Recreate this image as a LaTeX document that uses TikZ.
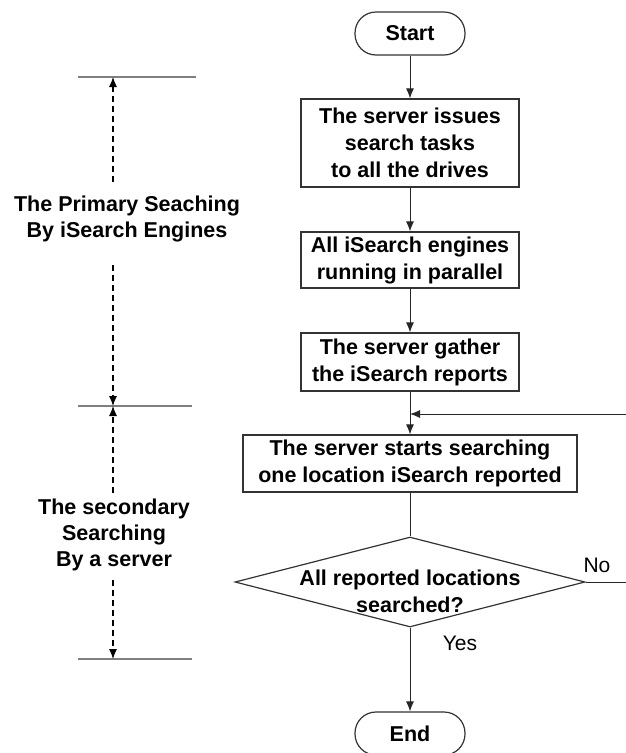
\documentclass[tikz,border=0pt]{standalone}
\usepackage{fontspec}
\setmainfont{Liberation Sans}
\usetikzlibrary{shapes.geometric,arrows.meta}
\begin{document}
\begin{tikzpicture}[x=1pt,y=-1pt,
  every node/.style={font=\fontsize{21.5}{27}\selectfont\bfseries, align=center, inner sep=0pt},
  boxnode/.style={draw=black!80, line width=1.2pt, rectangle},
  termnode/.style={draw=black!80, line width=1.2pt, rectangle, rounded corners=21pt, minimum width=110pt, minimum height=43pt},
  arr/.style={draw=black!85, line width=1pt, -{Latex[length=10pt,width=8pt]}},
  plain/.style={draw=black!85, line width=1pt},
  dasharr/.style={draw=black, line width=1.1pt, dash pattern=on 6pt off 4pt, -{Latex[length=10pt,width=8pt]}},
  rule/.style={draw=black!50, line width=1.4pt},
  lbl/.style={font=\fontsize{21.5}{26}\selectfont\bfseries},
  yn/.style={font=\fontsize{21}{26}\selectfont\mdseries}
]
\useasboundingbox (0,0) rectangle (626,753);

% main column
\node[termnode] (start) at (410,33.5) {Start};
\node[boxnode, minimum width=218pt, minimum height=88pt] (b1) at (410,143) {The server issues\\search tasks\\to all the drives};
\node[boxnode, minimum width=218pt, minimum height=56pt] (b2) at (410,260) {All iSearch engines\\running in parallel};
\node[boxnode, minimum width=218pt, minimum height=58pt] (b3) at (410,362) {The server gather\\the iSearch reports};
\node[boxnode, minimum width=334pt, minimum height=57pt] (b4) at (410,463.5) {The server starts searching\\one location iSearch reported};
\node[diamond, draw=black!80, line width=1.2pt, minimum width=350pt, minimum height=90pt] (dec) at (410,582) {};
\node (dectext) at (410,591) {All reported locations\\searched?};
\node[termnode] (end) at (410,733.5) {End};

\draw[arr] (start) -- (b1);
\draw[arr] (b1) -- (b2);
\draw[arr] (b2) -- (b3);
\draw[arr] (b3) -- (b4);
\draw[plain] (b4) -- (dec);
\draw[arr] (dec) -- (end);

% feedback (No) loop, clipped at the right edge
\coordinate (noR) at (626,582);
\coordinate (fbR) at (626,414);
\draw[plain] (dec.east) -- (noR);
\draw[arr] (fbR) -- (fbR -| b3.south);

\node[yn] (no) at (597,565) {No};
\node[yn] (yes) at (460,643) {Yes};

% left-hand phase markers
\coordinate (r1a) at (78,77);  \coordinate (r1b) at (196,77);
\coordinate (r2a) at (78,406); \coordinate (r2b) at (192,406);
\coordinate (r3a) at (78,659); \coordinate (r3b) at (192,659);
\draw[rule] (r1a) -- (r1b);
\draw[rule] (r2a) -- (r2b);
\draw[rule] (r3a) -- (r3b);

\node[lbl] (lab1) at (127,219) {The Primary Seaching\\By iSearch Engines};
\node[lbl] (lab2) at (114,535) {The secondary\\Searching\\By a server};

\coordinate (d1s) at (113,182); \coordinate (d1e) at (113,77);
\coordinate (d2s) at (113,265); \coordinate (d2e) at (113,406);
\coordinate (d3s) at (113,493); \coordinate (d3e) at (113,406);
\coordinate (d4s) at (113,580); \coordinate (d4e) at (113,659);
\draw[dasharr] (d1s) -- (d1e);
\draw[dasharr] (d2s) -- (d2e);
\draw[dasharr] (d3s) -- (d3e);
\draw[dasharr] (d4s) -- (d4e);
\end{tikzpicture}
\end{document}
